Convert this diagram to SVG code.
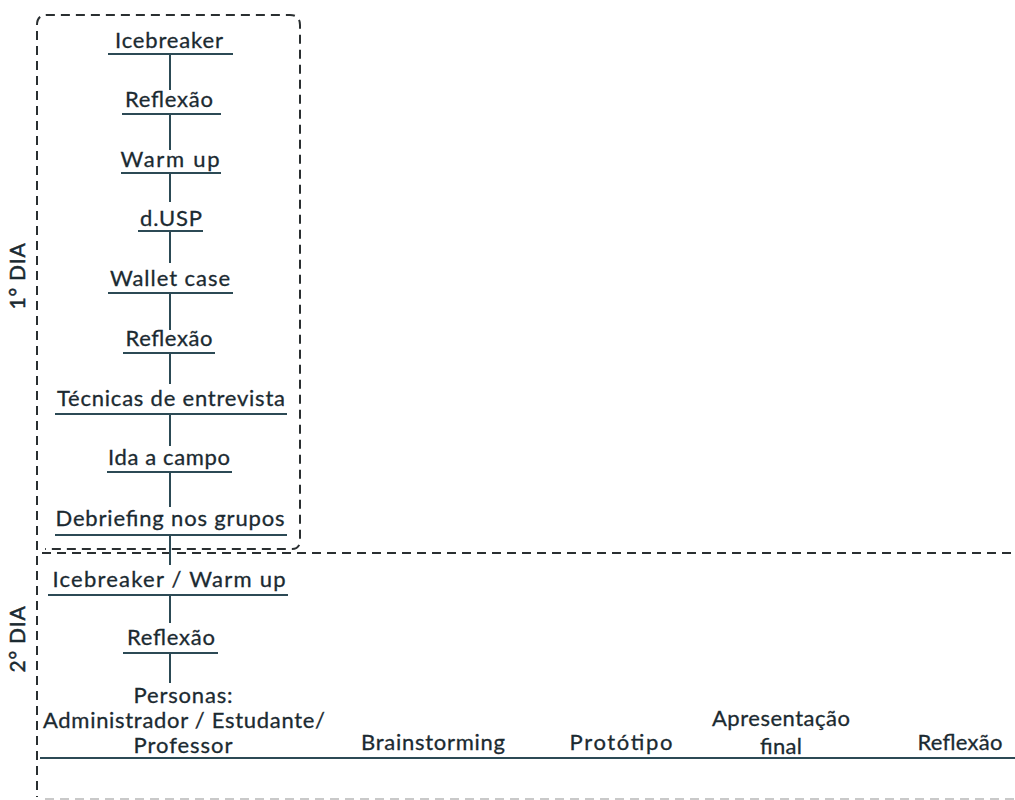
<svg xmlns="http://www.w3.org/2000/svg" width="1015" height="800" viewBox="0 0 1015 800">
  <style>
    .lbl { font-family: Lato, "Open Sans", "Liberation Sans", sans-serif; font-size: 22px; fill: #1b2a31; stroke: #1b2a31; stroke-width: 0.3px; text-anchor: middle; }
    .day { font-family: Lato, "Open Sans", "Liberation Sans", sans-serif; font-size: 21px; letter-spacing: 0.8px; fill: #1b2a31; stroke: #1b2a31; stroke-width: 0.5px; text-anchor: middle; }
    .ul { stroke: #2c4a55; stroke-width: 2; fill: none; }
    .link { stroke: #2c4a55; stroke-width: 2; fill: none; }
    .frame { stroke: #2a2f31; stroke-width: 2; fill: none; stroke-dasharray: 9 6; }
  </style>
  <rect width="1015" height="800" fill="#ffffff"/>

  <!-- day frames -->
  <g id="frames">
    <path class="frame" d="M37,550 L37,25 Q37,15 47,15 L290,15 Q300,15 300,25 L300,542 Q299,549 292,549 L45,549"/>
    <path class="frame" d="M42,553 L1015,553"/>
    <path class="frame" d="M37,556 L37,797"/>
    <path class="frame" style="stroke:#c9c9c9" d="M45,799 L1015,799"/>
  </g>

  <!-- day labels -->
  <g id="day1">
    <text class="day" transform="translate(25,276) rotate(-90)">1° DIA</text>
  </g>
  <g id="day2">
    <text class="day" transform="translate(25,639) rotate(-90)">2° DIA</text>
  </g>

  <!-- connectors -->
  <g id="connectors">
    <line class="link" x1="170" y1="54" x2="170" y2="90"/>
    <line class="link" x1="170" y1="114" x2="170" y2="150"/>
    <line class="link" x1="170" y1="173" x2="170" y2="202"/>
    <line class="link" x1="170" y1="231" x2="170" y2="263"/>
    <line class="link" x1="170" y1="293" x2="170" y2="330"/>
    <line class="link" x1="170" y1="353" x2="170" y2="384"/>
    <line class="link" x1="170" y1="414" x2="170" y2="446"/>
    <line class="link" x1="170" y1="472" x2="170" y2="507"/>
    <line class="link" x1="170" y1="535" x2="170" y2="565"/>
    <line class="link" x1="170" y1="595" x2="170" y2="623"/>
    <line class="link" x1="170" y1="653" x2="170" y2="683"/>
  </g>

  <!-- day 1 steps -->
  <g id="n-icebreaker">
    <text class="lbl" x="169" y="48" textLength="108">Icebreaker</text>
    <line class="ul" x1="108" y1="54" x2="233" y2="54"/>
  </g>
  <g id="n-reflexao1">
    <text class="lbl" x="169" y="107" textLength="88">Reflexão</text>
    <line class="ul" x1="122" y1="114" x2="221" y2="114"/>
  </g>
  <g id="n-warmup">
    <text class="lbl" x="170" y="167" textLength="99">Warm up</text>
    <line class="ul" x1="121" y1="173" x2="221" y2="173"/>
  </g>
  <g id="n-dusp">
    <text class="lbl" x="171" y="226" textLength="62">d.USP</text>
    <line class="ul" x1="138" y1="231" x2="203" y2="231"/>
  </g>
  <g id="n-wallet">
    <text class="lbl" x="170" y="286" textLength="120">Wallet case</text>
    <line class="ul" x1="108" y1="293" x2="233" y2="293"/>
  </g>
  <g id="n-reflexao2">
    <text class="lbl" x="169" y="346" textLength="87">Reflexão</text>
    <line class="ul" x1="123" y1="353" x2="215" y2="353"/>
  </g>
  <g id="n-tecnicas">
    <text class="lbl" x="171" y="406" textLength="228">Técnicas de entrevista</text>
    <line class="ul" x1="55" y1="414" x2="287" y2="414"/>
  </g>
  <g id="n-ida">
    <text class="lbl" x="169" y="465" textLength="122">Ida a campo</text>
    <line class="ul" x1="107" y1="472" x2="232" y2="472"/>
  </g>
  <g id="n-debriefing">
    <text class="lbl" x="170" y="526" textLength="229">Debriefing nos grupos</text>
    <line class="ul" x1="55" y1="535" x2="287" y2="535"/>
  </g>

  <!-- day 2 steps -->
  <g id="n-icebreaker-warmup">
    <text class="lbl" x="169" y="587" textLength="233">Icebreaker / Warm up</text>
    <line class="ul" x1="48" y1="595" x2="288" y2="595"/>
  </g>
  <g id="n-reflexao3">
    <text class="lbl" x="171" y="645" textLength="88">Reflexão</text>
    <line class="ul" x1="123" y1="653" x2="218" y2="653"/>
  </g>

  <!-- bottom row sharing one baseline rule -->
  <g id="n-row">
    <line class="ul" x1="40" y1="758" x2="1015" y2="758"/>
  </g>
  <g id="n-personas">
    <text class="lbl" x="183" y="703" textLength="99">Personas:</text>
    <text class="lbl" x="184" y="728" textLength="282">Administrador / Estudante/</text>
    <text class="lbl" x="183" y="753" textLength="99">Professor</text>
  </g>
  <g id="n-brainstorming">
    <text class="lbl" x="433" y="750" textLength="144">Brainstorming</text>
  </g>
  <g id="n-prototipo">
    <text class="lbl" x="621" y="750" textLength="103">Protótipo</text>
  </g>
  <g id="n-apresentacao">
    <text class="lbl" x="781" y="726" textLength="138">Apresentação</text>
    <text class="lbl" x="781" y="754" textLength="42">final</text>
  </g>
  <g id="n-reflexao4">
    <text class="lbl" x="960" y="750" textLength="85">Reflexão</text>
  </g>
</svg>
